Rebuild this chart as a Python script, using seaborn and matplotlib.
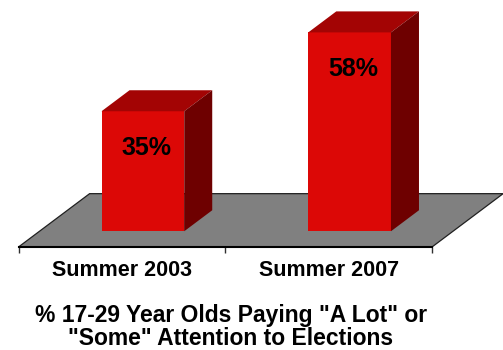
import matplotlib
matplotlib.use("Agg")
import matplotlib.pyplot as plt
import matplotlib.transforms as mtransforms
from matplotlib.patches import Polygon
import seaborn as sns
import pandas as pd

# --- data -------------------------------------------------------------
periods = ["Summer 2003", "Summer 2007"]
shares = [35, 58]
value_labels = ["35%", "58%"]
title_text = '% 17-29 Year Olds Paying "A Lot" or\n"Some" Attention to Elections'

# --- colours -----------------------------------------------------------
FRONT = "#DC0806"
TOP = "#A30404"
SIDE = "#6E0000"
FLOOR = "#808080"

sns.set_theme(style="white")
plt.rcParams["font.family"] = ["Liberation Sans", "DejaVu Sans"]
plt.rcParams["text.color"] = "black"

W, H = 503, 350
fig = plt.figure(figsize=(W / 100, H / 100), dpi=100)
# axes whose x-axis is the front edge of the floor
ax = fig.add_axes([18.5 / W, (H - 247) / H, 413.5 / W, 240 / H])

df = pd.DataFrame({"period": periods, "share": shares})
sns.barplot(data=df, x="period", y="share", color=FRONT, saturation=1,
            width=0.4, linewidth=0, ax=ax, zorder=3)
ax.set_xlim(-0.5, 1.5)
ax.set_ylim(0, 70)
bars = list(ax.patches)


def px_to_data(dx_px, dy_px):
    inv = ax.transData.inverted()
    x0, y0 = inv.transform((0, 0))
    x1, y1 = inv.transform((dx_px, dy_px))
    return x1 - x0, y1 - y0


# 3-D depth of one bar, expressed in data units
Dx, Dy = px_to_data(28, 21)
front_off = 0.75          # bars sit this many depths behind the floor's front edge
floor_depth = 2.54        # total floor depth in bar depths

# floor parallelogram
floor = Polygon([(-0.5, 0), (1.5, 0),
                 (1.5 + floor_depth * Dx, floor_depth * Dy),
                 (-0.5 + floor_depth * Dx, floor_depth * Dy)],
                closed=True, facecolor=FLOOR, edgecolor="#202020",
                linewidth=0.9, clip_on=False, zorder=1)
ax.add_patch(floor)

shift = mtransforms.Affine2D().translate(front_off * Dx, front_off * Dy) + ax.transData

for bar, label in zip(bars, value_labels):
    x0, w, h = bar.get_x(), bar.get_width(), bar.get_height()
    bar.set_transform(shift)
    bar.set_clip_on(False)
    top = Polygon([(x0, h), (x0 + w, h), (x0 + w + Dx, h + Dy), (x0 + Dx, h + Dy)],
                  closed=True, facecolor=TOP, edgecolor="none",
                  transform=shift, clip_on=False, zorder=3)
    side = Polygon([(x0 + w, 0), (x0 + w + Dx, Dy), (x0 + w + Dx, h + Dy), (x0 + w, h)],
                   closed=True, facecolor=SIDE, edgecolor="none",
                   transform=shift, clip_on=False, zorder=3)
    ax.add_patch(top)
    ax.add_patch(side)
    ax.text(x0 + w / 2 + 0.017, h - 10.8, label, transform=shift,
            ha="center", va="center", fontsize=18, fontweight="bold",
            color="black", zorder=5)

# axis styling
for name in ["top", "right", "left"]:
    ax.spines[name].set_visible(False)
ax.spines["bottom"].set_color("black")
ax.spines["bottom"].set_linewidth(1.5)
ax.spines["bottom"].set_zorder(2)
ax.set_yticks([])
ax.set_ylabel("")
ax.set_xticks([0, 1])
ax.set_xticklabels(periods, fontsize=15.5, fontweight="bold", color="black")
ax.set_xticks([-0.5, 0.5, 1.5], minor=True)
ax.tick_params(axis="x", which="major", length=0, pad=9.5)
ax.tick_params(axis="x", which="minor", bottom=True, length=4.5, width=1,
               color="#303030", direction="out")
ax.set_xlabel(title_text, fontsize=16.5, fontweight="bold", color="black",
              linespacing=1.02, va="top")
ax.xaxis.set_label_coords(0.514, -0.238)
ax.patch.set_visible(False)

fig.savefig("out.png", dpi=100)
